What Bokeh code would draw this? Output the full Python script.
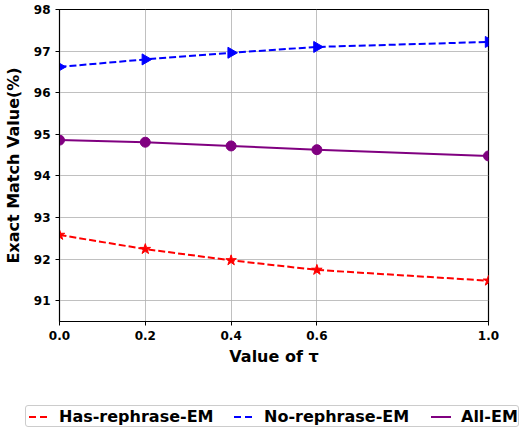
import numpy as np
from bokeh.plotting import figure
from bokeh.layouts import column
from bokeh.models import FixedTicker, PrintfTickFormatter, Range1d, Div
from bokeh.embed import file_html
from bokeh.resources import INLINE

tau = [0.0, 0.2, 0.4, 0.6, 1.0]
has_rephrase = [92.58, 92.24, 91.97, 91.74, 91.48]
no_rephrase = [96.62, 96.80, 96.96, 97.10, 97.22]
all_em = [94.86, 94.81, 94.72, 94.63, 94.48]
x_ticks = [0.0, 0.2, 0.4, 0.6, 1.0]
y_ticks = [91, 92, 93, 94, 95, 96, 97, 98]
series_names = ["Has-rephrase-EM", "No-rephrase-EM", "All-EM"]

FONT = "DejaVu Sans"
colors = ["red", "blue", "purple"]
dashed = [True, True, False]

p = figure(frame_width=429, frame_height=312, output_backend="svg", toolbar_location=None,
           x_range=Range1d(0, 1), y_range=Range1d(90.5, 98),
           min_border_left=52, min_border_right=30, min_border_top=9, min_border_bottom=50)
p.outline_line_color = "black"
p.outline_line_width = 1.2
p.background_fill_color = "white"

for ax in (p.xaxis[0], p.yaxis[0]):
    ax.major_label_text_font = FONT
    ax.major_label_text_font_style = "bold"
    ax.major_label_text_font_size = "9pt"
    ax.major_label_text_color = "black"
    ax.axis_label_text_font = FONT
    ax.axis_label_text_font_style = "bold"
    ax.axis_label_text_font_size = "12pt"
    ax.axis_label_text_color = "black"
    ax.minor_tick_line_color = None
    ax.major_tick_out = 4
    ax.major_tick_in = 0
    ax.axis_line_color = "black"
    ax.major_tick_line_color = "black"

p.xaxis[0].ticker = FixedTicker(ticks=x_ticks)
p.xaxis[0].formatter = PrintfTickFormatter(format="%.1f")
p.yaxis[0].ticker = FixedTicker(ticks=y_ticks)
p.xaxis[0].axis_label = "Value of τ"
p.yaxis[0].axis_label = "Exact Match Value(%)"
p.xaxis[0].axis_label_standoff = 4
p.yaxis[0].axis_label_standoff = 8

p.grid.grid_line_color = "#b0b0b0"
p.grid.grid_line_alpha = 0.8
p.grid.grid_line_width = 1

p.line(tau, has_rephrase, line_color=colors[0], line_width=2, line_dash="7 3")
p.scatter(tau, has_rephrase, marker="star", size=11, color=colors[0])
p.line(tau, no_rephrase, line_color=colors[1], line_width=2, line_dash="7 3")
p.scatter(tau, no_rephrase, marker="triangle", angle=-np.pi / 2, size=11, color=colors[1])
p.line(tau, all_em, line_color=colors[2], line_width=2)
p.scatter(tau, all_em, marker="circle", size=10, color=colors[2])

# legend strip (real text) below the chart
glyph_x = [28, 233, 430]
text_x = [58, 263, 460]
items = []
for name, c, d, gx, tx in zip(series_names, colors, dashed, glyph_x, text_x):
    if d:
        bg = f"repeating-linear-gradient(to right, {c} 0px, {c} 7px, transparent 7px, transparent 11px)"
    else:
        bg = c
    items.append(
        f'<span style="position:absolute;left:{gx - 25}px;top:10px;width:20px;height:2px;background:{bg};"></span>'
        f'<span style="position:absolute;left:{tx - 25}px;top:1px;line-height:20px;">{name}</span>'
    )
html = (
    f'<div style="position:relative;width:519px;height:60px;font-family:\'{FONT}\';'
    'font-weight:bold;font-size:16px;color:black;">'
    '<div style="position:absolute;left:25px;top:34px;width:494px;height:22px;'
    'border:1px solid #cccccc;border-radius:3px;background:white;">'
    + "".join(items) +
    '</div></div>'
)
legend_div = Div(text=html, width=519, height=60, margin=0)

layout = column(p, legend_div)
open("out.html", "w").write(file_html(layout, INLINE))
